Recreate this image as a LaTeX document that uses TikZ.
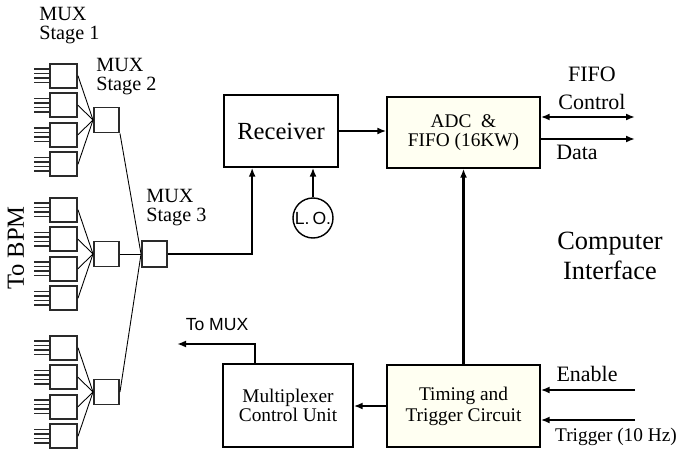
\documentclass[tikz,border=0pt]{standalone}
\usepackage{fontspec}
\setmainfont{Liberation Serif}
\setsansfont{Liberation Sans}
\usepackage{tikz}
\usetikzlibrary{arrows.meta,positioning,calc}
\definecolor{Cream}{HTML}{FFFFF2}
\definecolor{Ink}{HTML}{2A2A2A}

\begin{document}
\begin{tikzpicture}[x=0.2mm,y=-0.2mm,
  blk/.style={draw,line width=0.8pt,inner sep=0pt,align=center},
  mux/.style={draw=Ink,line width=1.1pt,minimum width=5.4mm,minimum height=4.8mm,inner sep=0pt},
  hub/.style={draw=Ink,line width=1.1pt,minimum size=5mm,inner sep=0pt},
  wire/.style={line width=0.5pt},
  feed/.style={line width=0.9pt,color=Ink},
  arr/.style={-{Latex[length=1.8mm,width=1.4mm]},line width=1.2pt},
  dbl/.style={{Latex[length=1.8mm,width=1.4mm]}-{Latex[length=1.8mm,width=1.4mm]},line width=1.2pt},
  lbl/.style={inner sep=0pt,align=center}
]
\useasboundingbox (0,0) rectangle (678,454);
% multiplexer tree
\foreach \g/\gy in {a/120,b/254,c/392} {
  \node[hub] (s2\g) at (106.5,\gy) {};
  \foreach \i/\dy in {1/-44.25,2/-14.75,3/14.75,4/44.25} {
    \node[mux] (s1\g\i) at ($(63.5,\gy)+(0,\dy)$) {};
    \draw[wire] (s1\g\i.east) -- (s2\g.west);
    \foreach \k in {-6.75,-2.25,2.25,6.75}
      \draw[feed] ($(s1\g\i.west)+(-15,\k)$) -- ++(15,0);
  }
}
\node[hub,minimum height=5.2mm] (s3) at (154.5,254) {};
\draw[wire] (s2a.south east) -- (s3.west);
\draw[wire] (s2b.east) -- (s3.west);
\draw[wire] (s2c.east) -- (s3.west);
\node[lbl,anchor=west,align=left,font=\fontsize{11.5}{10.8}\selectfont] (st1) at (39,26) {MUX\\Stage 1};
\node[lbl,anchor=west,align=left,font=\fontsize{11.5}{10.8}\selectfont] (st2) at (96,77) {MUX\\Stage 2};
\node[lbl,anchor=west,align=left,font=\fontsize{11.5}{10.8}\selectfont] (st3) at (146,207.5) {MUX\\Stage 3};
\node[lbl,rotate=90,font=\fontsize{14}{16}\selectfont] (bpm) at (16,248) {To BPM};
% signal chain
\node[blk,minimum width=22.8mm,minimum height=14.4mm,font=\fontsize{14}{16}\selectfont] (rcv) at (281,131) {Receiver};
\node[blk,fill=Cream,minimum width=30.6mm,minimum height=14.2mm,font=\fontsize{11}{11}\selectfont] (adc) at (463.5,132.5) {ADC \ \&\\FIFO (16KW)};
\node[draw,circle,line width=0.8pt,minimum size=8mm,inner sep=0pt,font=\sffamily\fontsize{10}{11}\selectfont] (lo) at (313,218) {L.\,O.};
\node[blk,fill=Cream,minimum width=30.6mm,minimum height=16.4mm,font=\fontsize{11}{12}\selectfont] (tim) at (463.5,406) {Timing and\\Trigger Circuit};
\node[blk,minimum width=26mm,minimum height=16.6mm,font=\fontsize{11}{11}\selectfont] (mcu) at (288,405.5) {Multiplexer\\Control Unit};
\draw[arr] (s3.east) -| ($(rcv.south west)!0.25!(rcv.south east)$);
\draw[arr] (lo.north) -- (lo.north |- rcv.south);
\draw[arr] (rcv.east) -- (rcv.east -| adc.west);
\draw[arr] (tim.north) -- (adc.south);
\draw[arr] (tim.west) -- (tim.west -| mcu.east);
\coordinate (tomux) at (177,344);
\draw[arr] ($(mcu.north west)!0.25!(mcu.north east)$) |- (tomux);
\node[lbl,font=\sffamily\fontsize{10}{12}\selectfont] (tmx) at (217,325) {To MUX};
% computer interface
\coordinate (ctl) at (635,117);
\coordinate (dat) at (635,139);
\coordinate (en) at (635,390);
\coordinate (trg) at (635,420);
\draw[dbl] (ctl -| adc.east) -- (ctl);
\draw[arr] (dat -| adc.east) -- (dat);
\draw[arr] (en) -- (en -| tim.east);
\draw[arr] (trg) -- (trg -| tim.east);
\node[lbl,font=\fontsize{12.5}{16}\selectfont] (fc) at (592,88) {FIFO\\Control};
\node[lbl,font=\fontsize{12.5}{15}\selectfont] (data) at (577,152) {Data};
\node[lbl,font=\fontsize{12.5}{15}\selectfont] (enl) at (587,374) {Enable};
\node[lbl,font=\fontsize{11}{13}\selectfont] (trl) at (616,437) {Trigger (10 Hz)};
\node[lbl,font=\fontsize{15}{17}\selectfont] (ci) at (610,256) {Computer\\Interface};
\end{tikzpicture}
\end{document}
